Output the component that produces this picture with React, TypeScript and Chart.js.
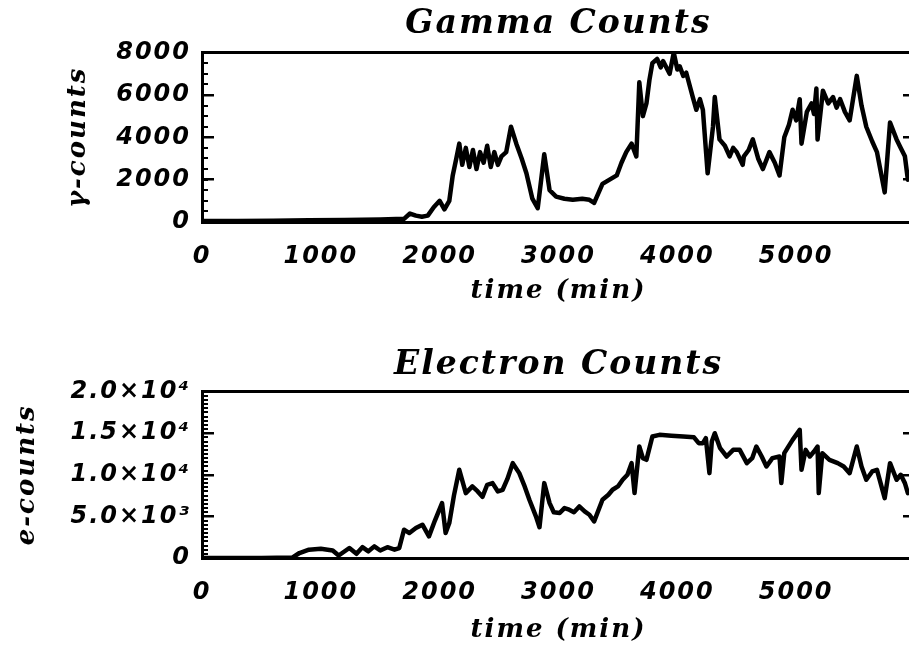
import React, { useEffect, useRef } from 'react';
import { Chart, registerables } from 'chart.js';

Chart.register(...registerables);

// ---- data ----
const gammaTime = [
  0, 300, 600, 900, 1200, 1500, 1700, 1750, 1800, 1850, 1900, 1950, 2000, 2040, 2081,
  2110, 2140, 2165, 2190, 2220, 2250, 2280, 2310, 2340, 2370, 2400, 2430, 2460, 2490,
  2520, 2560, 2600, 2645, 2690, 2730, 2780, 2825, 2850, 2880, 2925, 2980, 3050, 3120,
  3200, 3260, 3300, 3370, 3430, 3490, 3530, 3570, 3615, 3655, 3680, 3710, 3740, 3765, 3790,
  3830, 3860, 3880, 3935, 3970, 4000, 4020, 4050, 4075, 4130, 4160, 4190, 4215, 4255, 4300, 4315, 4355, 4400,
  4440, 4470, 4500, 4550, 4560, 4600, 4635, 4680, 4720, 4775, 4820, 4860, 4900, 4940, 4970, 5000, 5030, 5045, 5090,
  5130, 5150, 5170, 5180, 5225, 5270, 5310, 5340, 5370, 5410, 5450, 5510, 5550, 5590, 5640, 5680, 5745, 5790, 5845, 5880, 5915,
  5940, 6000,
];
const gammaCounts = [
  50, 50, 60, 80, 100, 120, 150, 400, 300, 250, 300, 700, 1000, 600, 1000,
  2200, 3000, 3700, 2700, 3500, 2600, 3400, 2500, 3300, 2800, 3600, 2600, 3300, 2700,
  3100, 3300, 4500, 3700, 3000, 2300, 1100, 650, 1800, 3200, 1500, 1200, 1100, 1050,
  1100, 1050, 900, 1800, 2000, 2200, 2800, 3300, 3700, 3100, 6600, 5000, 5600, 6700, 7500,
  7700, 7300, 7600, 7000, 8000, 7200, 7350, 6900, 7050, 5900, 5300, 5800, 5300, 2300, 4500, 5900, 3900, 3600,
  3100, 3500, 3300, 2700, 3100, 3400, 3900, 3000, 2500, 3300, 2800, 2200, 4000, 4600, 5300, 4800, 5800, 3700, 5200,
  5600, 5100, 6300, 3900, 6200, 5600, 5900, 5400, 5800, 5200, 4800, 6900, 5500, 4500, 3800, 3300, 1400, 4700, 3900, 3500, 3100,
  2000, 2400,
];

const electronTime = [
  0, 500, 760, 820, 900, 1000, 1100, 1150, 1240, 1300, 1350, 1400, 1450, 1500, 1560,
  1620, 1660, 1700, 1745, 1800, 1855, 1910, 1960, 2020, 2050, 2081, 2120, 2165, 2220,
  2275, 2320, 2360, 2400, 2445, 2490, 2530, 2570, 2615, 2670, 2710, 2755, 2810, 2840,
  2880, 2925, 2960, 3010, 3050, 3090, 3130, 3175, 3220, 3260, 3300, 3370, 3420, 3455,
  3500, 3540, 3580, 3615, 3640, 3680, 3710, 3740, 3790, 3850, 3950, 4050, 4140, 4180,
  4215, 4240, 4270, 4290, 4315, 4360, 4415, 4470, 4525, 4585, 4630, 4665, 4710, 4750,
  4800, 4860, 4875, 4900, 4970, 5030, 5045, 5080, 5115, 5150, 5180, 5190, 5220, 5280, 5350, 5400,
  5450, 5510, 5550, 5590, 5640, 5680, 5745, 5790, 5845, 5880, 5915, 5940, 6000,
];
const electronCounts = [
  0, 0, 50, 600, 1000, 1100, 900, 300, 1200, 500, 1300, 800, 1400, 900, 1300,
  1000, 1200, 3400, 3000, 3600, 4000, 2600, 4500, 6600, 3000, 4200, 7500, 10600, 7800,
  8600, 8000, 7350, 8800, 9000, 8000, 8200, 9500, 11400, 10200, 8800, 7000, 5000, 3700,
  9000, 6600, 5500, 5400, 6000, 5800, 5500, 6200, 5600, 5200, 4400, 7000, 7600, 8200,
  8600, 9400, 10000, 11400, 7800, 13400, 12000, 11800, 14600, 14800, 14700, 14600, 14500, 13800,
  13800, 14400, 10200, 14000, 15000, 13200, 12200, 13000, 13000, 11400, 12000, 13400, 12200, 11000,
  12000, 12200, 9000, 12600, 14200, 15400, 10600, 13000, 12200, 12800, 13400, 7800, 12600, 11800, 11400, 11000,
  10200, 13400, 11000, 9400, 10400, 10600, 7200, 11400, 9400, 10000, 9000, 7800, 8400,
];

// tick labels (the 6000 label falls outside the visible page in the original)
const timeTickValues = [0, 1000, 2000, 3000, 4000, 5000];
const timeTickLabels = ['0', '1000', '2000', '3000', '4000', '5000'];
const gammaTickValues = [0, 2000, 4000, 6000, 8000];
const gammaTickLabels = ['0', '2000', '4000', '6000', '8000'];
const electronTickValues = [0, 5000, 10000, 15000, 20000];
const electronTickLabels = ['0', '5.0×10³', '1.0×10⁴', '1.5×10⁴', '2.0×10⁴'];

// ---- layout ----
const CANVAS_W = 930;
const PLOT_LEFT = 202;
const PLOT_RIGHT = 915;

const tickFont = { family: 'DejaVu Sans', size: 24, style: 'italic' as const, weight: 'bold' as const };
const axisTitleFont = { family: 'DejaVu Serif', size: 26, style: 'italic' as const, weight: 'bold' as const };
const titleFont = { family: 'DejaVu Serif', size: 33, style: 'italic' as const, weight: 'bold' as const };

const spacingPlugin = {
  id: 'letterSpacing',
  beforeDraw(chart: any) {
    chart.ctx.letterSpacing = '2px';
  },
  afterDraw(chart: any) {
    chart.ctx.letterSpacing = '0px';
  },
};

const lookup = (values: number[], labels: string[]) => (v: any) => {
  const i = values.indexOf(Number(v));
  return i >= 0 ? labels[i] : '';
};

type PanelProps = {
  title: string;
  yTitle: string;
  time: number[];
  counts: number[];
  yMax: number;
  yStep: number;
  tickValues: number[];
  tickLabels: string[];
  top: number;
  height: number;
  titlePad: { top: number; bottom: number };
  xAxisHeight: number;
  xTickPad: number;
  xTitlePad: number;
  yTitlePad: number;
};

function Panel(p: PanelProps) {
  const ref = useRef<HTMLCanvasElement | null>(null);
  useEffect(() => {
    if (!ref.current) return;
    const noPadH = (s: any) => {
      s.paddingLeft = 0;
      s.paddingRight = 0;
    };
    const noPadV = (s: any) => {
      s.paddingTop = 0;
      s.paddingBottom = 0;
    };
    const chart = new Chart(ref.current, {
      type: 'line',
      data: {
        datasets: [
          {
            data: p.time.map((t, i) => ({ x: t, y: p.counts[i] })),
            borderColor: '#000',
            borderWidth: 4.5,
            pointRadius: 0,
            tension: 0,
            fill: false,
            borderJoinStyle: 'round',
            borderCapStyle: 'round',
            xAxisID: 'x',
            yAxisID: 'y',
          },
        ],
      },
      options: {
        responsive: false,
        animation: false,
        layout: { padding: 0 },
        plugins: {
          legend: { display: false },
          tooltip: { enabled: false },
          title: {
            display: true,
            text: p.title,
            fullSize: false,
            color: '#000',
            font: titleFont,
            padding: p.titlePad,
          },
        },
        scales: {
          x: {
            type: 'linear',
            position: 'bottom',
            min: 0,
            max: 6000,
            weight: 1,
            ticks: {
              stepSize: 1000,
              color: '#000',
              font: tickFont,
              padding: p.xTickPad,
              maxRotation: 0,
              autoSkip: false,
              callback: lookup(timeTickValues, timeTickLabels),
            },
            grid: { display: true, drawOnChartArea: false, drawTicks: false },
            border: { display: true, width: 3, color: '#000' },
            title: {
              display: true,
              text: 'time (min)',
              color: '#000',
              font: axisTitleFont,
              padding: { top: 0, bottom: p.xTitlePad },
            },
            afterFit: (s: any) => {
              s.height = p.xAxisHeight;
              noPadH(s);
            },
          },
          xTop: {
            type: 'linear',
            position: 'top',
            min: 0,
            max: 6000,
            ticks: { display: false, stepSize: 1000 },
            grid: { display: true, drawOnChartArea: false, drawTicks: false },
            border: { display: true, width: 3, color: '#000' },
            afterFit: (s: any) => {
              s.height = 0;
              noPadH(s);
            },
          },
          y: {
            type: 'linear',
            position: 'left',
            weight: 1,
            min: 0,
            max: p.yMax,
            ticks: {
              stepSize: p.yStep,
              color: '#000',
              font: tickFont,
              padding: 23,
              callback: lookup(p.tickValues, p.tickLabels),
            },
            grid: { display: true, drawOnChartArea: false, tickLength: -12, lineWidth: 2.5, color: '#000' },
            border: { display: true, width: 3, color: '#000' },
            title: {
              display: true,
              text: p.yTitle,
              color: '#000',
              font: axisTitleFont,
              padding: { top: p.yTitlePad, bottom: 0 },
            },
            afterFit: (s: any) => {
              s.width = PLOT_LEFT;
              noPadV(s);
            },
          },
          yMinor: {
            type: 'linear',
            position: 'left',
            weight: 0,
            min: 0,
            max: p.yMax,
            ticks: { display: false, stepSize: 500 },
            grid: { display: true, drawOnChartArea: false, tickLength: -6, lineWidth: 2, color: '#000' },
            border: { display: false },
            afterFit: (s: any) => {
              s.width = 0;
              noPadV(s);
            },
          },
          yRight: {
            type: 'linear',
            position: 'right',
            min: 0,
            max: p.yMax,
            ticks: { display: false, stepSize: p.yStep },
            grid: { display: true, drawOnChartArea: false, tickLength: -12, lineWidth: 2.5, color: '#000' },
            border: { display: true, width: 3, color: '#000' },
            afterFit: (s: any) => {
              s.width = CANVAS_W - PLOT_RIGHT;
              noPadV(s);
            },
          },
        },
      } as any,
      plugins: [spacingPlugin],
    });
    return () => chart.destroy();
  }, []);
  return (
    <div style={{ position: 'absolute', left: 0, top: p.top, width: CANVAS_W, height: p.height }}>
      <canvas ref={ref} width={CANVAS_W} height={p.height} style={{ display: 'block' }} />
    </div>
  );
}

export default function App() {
  return (
    <div
      style={{
        position: 'fixed',
        left: 0,
        top: 0,
        width: 909,
        height: 647,
        overflow: 'hidden',
        background: '#fff',
      }}
    >
      <Panel
        title="Gamma Counts"
        yTitle="γ-counts"
        time={gammaTime}
        counts={gammaCounts}
        yMax={8000}
        yStep={2000}
        tickValues={gammaTickValues}
        tickLabels={gammaTickLabels}
        top={0}
        height={323}
        titlePad={{ top: 5, bottom: 8 }}
        xAxisHeight={101}
        xTickPad={20}
        xTitlePad={16}
        yTitlePad={63}
      />
      <Panel
        title="Electron Counts"
        yTitle="e-counts"
        time={electronTime}
        counts={electronCounts}
        yMax={20000}
        yStep={5000}
        tickValues={electronTickValues}
        tickLabels={electronTickLabels}
        top={323}
        height={324}
        titlePad={{ top: 23, bottom: 6 }}
        xAxisHeight={89}
        xTickPad={20}
        xTitlePad={1}
        yTitlePad={12}
      />
    </div>
  );
}
